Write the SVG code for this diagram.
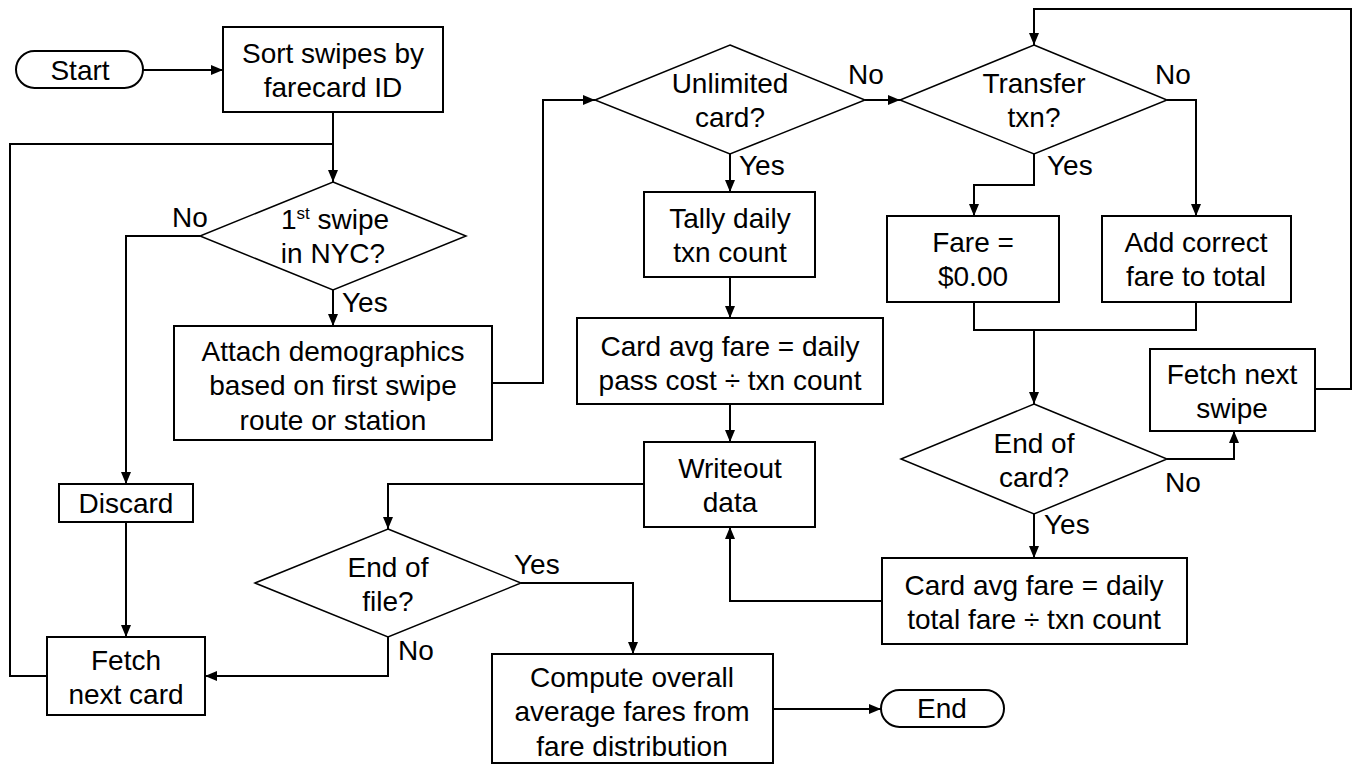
<svg xmlns="http://www.w3.org/2000/svg" width="1355" height="765" viewBox="0 0 1355 765">
<style>
.b{fill:#fff;stroke:#000;stroke-width:2}
.d{fill:#fff;stroke:#000;stroke-width:1.5}
.t{font-family:"Liberation Sans",Arial,sans-serif;font-size:28px;fill:#000;text-anchor:middle}
.l{font-family:"Liberation Sans",Arial,sans-serif;font-size:28px;fill:#000}
.c{fill:none;stroke:#000;stroke-width:2}
</style>
<defs>
<marker id="a" markerUnits="userSpaceOnUse" markerWidth="12" markerHeight="10" refX="12" refY="5" orient="auto">
<path d="M0,0 L12,5 L0,10 z" fill="#000"/>
</marker>
</defs>
<rect width="1355" height="765" fill="#fff"/>
<g id="connectors">
<path class="c" d="M143,70 H223" marker-end="url(#a)"/>
<path class="c" d="M333,112 V182" marker-end="url(#a)"/>
<path class="c" d="M47,676 H10 V144 H333"/>
<path class="c" d="M200,236 H126 V484" marker-end="url(#a)"/>
<path class="c" d="M126,522 V637" marker-end="url(#a)"/>
<path class="c" d="M333,290 V326" marker-end="url(#a)"/>
<path class="c" d="M492,383 H543 V100 H595" marker-end="url(#a)"/>
<path class="c" d="M865,100 H900" marker-end="url(#a)"/>
<path class="c" d="M730,154 V192" marker-end="url(#a)"/>
<path class="c" d="M730,277 V318" marker-end="url(#a)"/>
<path class="c" d="M730,404 V442" marker-end="url(#a)"/>
<path class="c" d="M644,484 H388 V529" marker-end="url(#a)"/>
<path class="c" d="M521,583 H633 V654" marker-end="url(#a)"/>
<path class="c" d="M388,637 V676 H205" marker-end="url(#a)"/>
<path class="c" d="M773,709 H881" marker-end="url(#a)"/>
<path class="c" d="M1167,100 H1196 V216" marker-end="url(#a)"/>
<path class="c" d="M1034,154 V185 H974 V216" marker-end="url(#a)"/>
<path class="c" d="M974,302 V330 H1196 V302"/>
<path class="c" d="M1034,330 V404" marker-end="url(#a)"/>
<path class="c" d="M1167,459 H1234 V431" marker-end="url(#a)"/>
<path class="c" d="M1315,389 H1351 V9 H1034 V45" marker-end="url(#a)"/>
<path class="c" d="M1034,514 V558" marker-end="url(#a)"/>
<path class="c" d="M882,601 H730 V527" marker-end="url(#a)"/>
<text class="l" x="172" y="227">No</text>
<text class="l" x="342" y="312">Yes</text>
<text class="l" x="848" y="84">No</text>
<text class="l" x="739" y="175">Yes</text>
<text class="l" x="1155" y="84">No</text>
<text class="l" x="1047" y="175">Yes</text>
<text class="l" x="1165" y="492">No</text>
<text class="l" x="1044" y="534">Yes</text>
<text class="l" x="514" y="574">Yes</text>
<text class="l" x="398" y="660">No</text>
</g>
<g id="start">
<rect class="b" x="16" y="51" width="127" height="37" rx="18.5"/>
<text class="t" x="80" y="80">Start</text>
</g>
<g id="sort">
<rect class="b" x="223" y="27" width="220" height="85"/>
<text class="t" x="333" y="63">Sort swipes by</text>
<text class="t" x="333" y="97">farecard ID</text>
</g>
<g id="first-swipe">
<polygon class="d" points="333,182 466,236 333,290 200,236"/>
<text class="t" x="335" y="229">1<tspan font-size="17" dy="-10">st</tspan><tspan dy="10"> swipe</tspan></text>
<text class="t" x="333" y="263">in NYC?</text>
</g>
<g id="discard">
<rect class="b" x="59" y="484" width="134" height="38"/>
<text class="t" x="126" y="513">Discard</text>
</g>
<g id="attach">
<rect class="b" x="174" y="326" width="318" height="114"/>
<text class="t" x="333" y="361">Attach demographics</text>
<text class="t" x="333" y="395">based on first swipe</text>
<text class="t" x="333" y="430">route or station</text>
</g>
<g id="unlimited">
<polygon class="d" points="730,45 865,100 730,154 595,100"/>
<text class="t" x="730" y="93">Unlimited</text>
<text class="t" x="730" y="127">card?</text>
</g>
<g id="tally">
<rect class="b" x="644" y="192" width="171" height="85"/>
<text class="t" x="730" y="228">Tally daily</text>
<text class="t" x="730" y="262">txn count</text>
</g>
<g id="card-avg-unlimited">
<rect class="b" x="577" y="318" width="306" height="86"/>
<text class="t" x="730" y="356">Card avg fare = daily</text>
<text class="t" x="730" y="390">pass cost ÷ txn count</text>
</g>
<g id="writeout">
<rect class="b" x="644" y="442" width="171" height="85"/>
<text class="t" x="730" y="478">Writeout</text>
<text class="t" x="730" y="512">data</text>
</g>
<g id="end-of-file">
<polygon class="d" points="388,529 521,583 388,637 255,583"/>
<text class="t" x="388" y="577">End of</text>
<text class="t" x="388" y="611">file?</text>
</g>
<g id="fetch-card">
<rect class="b" x="47" y="637" width="158" height="78"/>
<text class="t" x="126" y="670">Fetch</text>
<text class="t" x="126" y="704">next card</text>
</g>
<g id="compute">
<rect class="b" x="492" y="654" width="281" height="109"/>
<text class="t" x="632" y="687">Compute overall</text>
<text class="t" x="632" y="721">average fares from</text>
<text class="t" x="632" y="756">fare distribution</text>
</g>
<g id="end">
<rect class="b" x="881" y="690" width="123" height="37" rx="18.5"/>
<text class="t" x="942" y="718">End</text>
</g>
<g id="transfer">
<polygon class="d" points="1034,45 1167,100 1034,154 900,100"/>
<text class="t" x="1034" y="93">Transfer</text>
<text class="t" x="1034" y="127">txn?</text>
</g>
<g id="fare-zero">
<rect class="b" x="887" y="216" width="172" height="86"/>
<text class="t" x="973" y="252">Fare =</text>
<text class="t" x="973" y="286">$0.00</text>
</g>
<g id="add-fare">
<rect class="b" x="1102" y="216" width="189" height="86"/>
<text class="t" x="1196" y="252">Add correct</text>
<text class="t" x="1196" y="286">fare to total</text>
</g>
<g id="fetch-swipe">
<rect class="b" x="1150" y="349" width="165" height="82"/>
<text class="t" x="1232" y="384">Fetch next</text>
<text class="t" x="1232" y="418">swipe</text>
</g>
<g id="end-of-card">
<polygon class="d" points="1034,404 1167,459 1034,514 901,459"/>
<text class="t" x="1034" y="453">End of</text>
<text class="t" x="1034" y="487">card?</text>
</g>
<g id="card-avg-total">
<rect class="b" x="882" y="558" width="305" height="86"/>
<text class="t" x="1034" y="595">Card avg fare = daily</text>
<text class="t" x="1034" y="629">total fare ÷ txn count</text>
</g>
</svg>
